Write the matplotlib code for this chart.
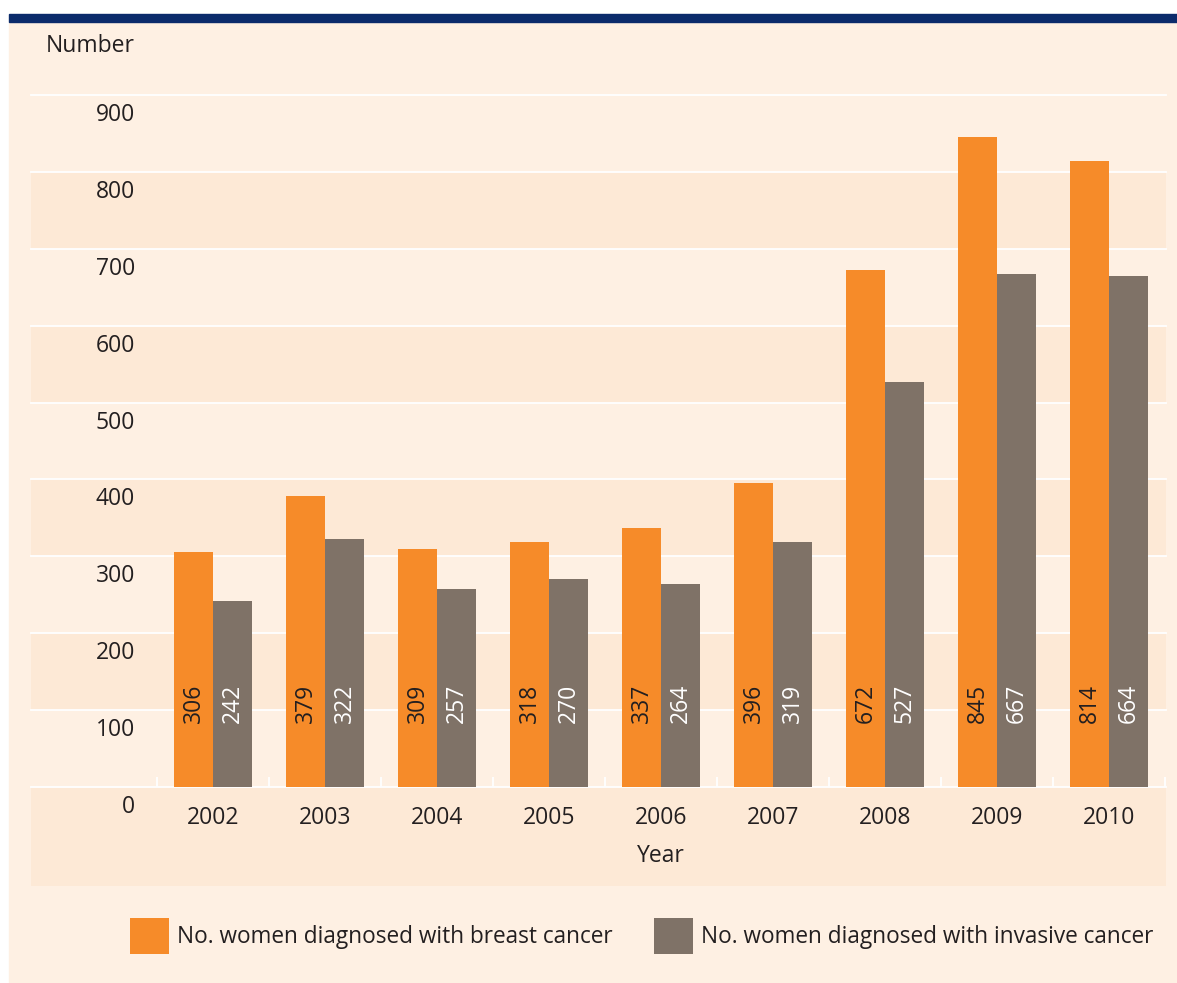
import matplotlib
matplotlib.use('Agg')
import matplotlib.pyplot as plt
from matplotlib.patches import Rectangle
from matplotlib.transforms import ScaledTranslation
import numpy as np

years = ['2002', '2003', '2004', '2005', '2006', '2007', '2008', '2009', '2010']
breast = [306, 379, 309, 318, 337, 396, 672, 845, 814]
invasive = [242, 322, 257, 270, 264, 319, 527, 667, 664]
yticks = [0, 100, 200, 300, 400, 500, 600, 700, 800, 900]

orange = '#F68B29'
grey = '#7F7267'
navy = '#0B2B6B'
bgLight = '#FEF0E3'
bgDark = '#FDE9D6'
textCol = '#231F20'

plt.rcParams['font.family'] = ['Open Sans', 'DejaVu Sans']
fs = 16.5

W, H = 1177, 983
fig = plt.figure(figsize=(W / 100, H / 100), dpi=100)
fig.patch.set_facecolor('white')

def fx(px):
 return px / W

def fy(py):
 return 1 - py / H

# panel + top rule
fig.patches.append(Rectangle((fx(9), 0), fx(W) - fx(9), fy(22), transform=fig.transFigure, color=bgLight, zorder=-10))
fig.patches.append(Rectangle((fx(9), fy(22)), fx(W) - fx(9), fy(14) - fy(22), transform=fig.transFigure, color=navy, zorder=-10))

left, right, top, bottom = 31, 1166, 95, 787
ax = fig.add_axes([fx(left), fy(bottom), fx(right) - fx(left), fy(top) - fy(bottom)])
ax.set_facecolor(bgLight)
for s in ax.spines.values():
 s.set_visible(False)

step = 112.0
x0 = -0.5 - (157 - left) / step
x1 = x0 + (right - left) / step
ax.set_xlim(x0, x1)
ax.set_ylim(0, 900)

# alternating bands
for lo in range(100, 900, 200):
 ax.axhspan(lo, lo + 100, color=bgDark, lw=0, zorder=0)
ypx = 900 / (bottom - top)
ax.add_patch(Rectangle((x0, -99 * ypx), x1 - x0, 99 * ypx, color=bgDark, lw=0, clip_on=False, zorder=0))
for v in yticks:
 ax.axhline(v, color='white', lw=1.3, zorder=1, clip_on=False)

x = np.arange(len(years))
bw = 39 / step
b1 = ax.bar(x - bw / 2, breast, bw, color=orange, zorder=2, label='No. women diagnosed with breast cancer')
b2 = ax.bar(x + bw / 2, invasive, bw, color=grey, zorder=2, label='No. women diagnosed with invasive cancer')

# small white separators at baseline
ax.vlines(np.arange(len(years) + 1) - 0.5, 0, 10 * ypx, color='white', lw=1.3, zorder=1)

labY = (bottom - 723) * ypx
for i in range(len(years)):
 ax.text(x[i] - bw / 2, labY, str(breast[i]), rotation=90, ha='center', va='bottom', fontsize=fs, color=textCol, zorder=3)
 ax.text(x[i] + bw / 2, labY, str(invasive[i]), rotation=90, ha='center', va='bottom', fontsize=fs, color='white', zorder=3)

ax.set_xticks(x)
ax.set_xticklabels(years, fontsize=fs, color=textCol)
ax.tick_params(axis='x', length=0, pad=14)
ax.set_xlabel('Year', fontsize=fs, color=textCol)
ax.xaxis.set_label_coords((661 - left) / (right - left), -(856 - bottom) / (bottom - top))
ax.xaxis.label.set_va('center')

ax.set_yticks(yticks)
ax.set_yticklabels([str(v) for v in yticks], fontsize=fs, color=textCol)
ax.tick_params(axis='y', length=0, pad=-(135 - left) * 0.72)
shift = ScaledTranslation(0, -17 / 100, fig.dpi_scale_trans)
for lab in ax.get_yticklabels():
 lab.set_transform(lab.get_transform() + shift)

fig.text(fx(135), fy(46), 'Number', ha='right', va='center', fontsize=fs, color=textCol)

fig.legend(handles=[b1, b2], loc='center left', bbox_to_anchor=(fx(130), fy(936)), ncol=2, frameon=False,
 fontsize=16.3, handlelength=1.72, handleheight=2.1, handletextpad=0.35, columnspacing=1.85,
 borderpad=0, borderaxespad=0, labelcolor=textCol)

fig.savefig('out.png', dpi=100, facecolor=fig.get_facecolor())
